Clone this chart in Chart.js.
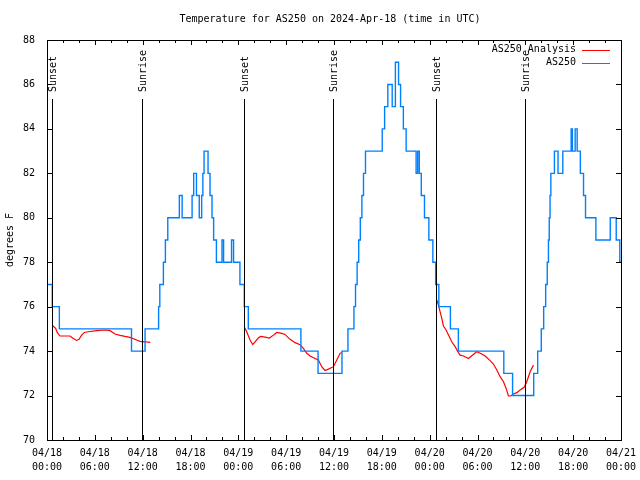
<!DOCTYPE html>
<html><head><meta charset="utf-8">
<script src="https://cdn.jsdelivr.net/npm/chart.js@4.4.1/dist/chart.umd.min.js"></script>
<style>html,body{margin:0;padding:0;background:#fff;}#wrap{width:640px;height:480px;}</style>
</head><body><div id="wrap"><canvas id="c" width="640" height="480"></canvas></div>
<script>
const TITLE = 'Temperature for AS250 on 2024-Apr-18 (time in UTC)';
const Y_LABEL = 'degrees F';
const xTickDates = ['04/18','04/18','04/18','04/18','04/19','04/19','04/19','04/19','04/20','04/20','04/20','04/20','04/21'];
const xTickTimes = ['00:00','06:00','12:00','18:00','00:00','06:00','12:00','18:00','00:00','06:00','12:00','18:00','00:00'];
const eventHours = [0.67, 11.9, 24.72, 35.9, 48.8, 59.9];
const eventLabels = ['Sunset','Sunrise','Sunset','Sunrise','Sunset','Sunrise'];

// AS250 (blue, stepped): hour since 04/18 00:00 UTC where the reading changes, and new value
const blueHours = [0,0.66,1.55,10.6,12.3,14.0,14.15,14.6,14.85,15.15,
  16.6,16.95,18.2,18.4,18.75,19.1,19.4,19.55,19.7,20.2,
  20.45,20.7,20.9,21.25,21.95,22.15,23.15,23.4,24.2,24.75,
  25.25,31.85,34.0,37.0,37.75,38.5,38.7,38.9,39.1,39.3,
  39.5,39.7,39.95,42.05,42.35,42.75,43.3,43.7,44.1,44.35,
  44.7,45.05,46.3,46.5,46.7,46.95,47.35,47.9,48.4,48.75,
  49.15,50.6,51.6,57.3,58.4,61.05,61.55,62.0,62.3,62.55,
  62.75,62.9,63.0,63.1,63.2,63.65,64.1,64.7,65.75,65.9,
  66.25,66.5,66.9,67.3,67.55,68.85,70.65,71.4,71.85,72];
const blueTemps = [77,76,75,74,75,76,77,78,79,80,
  81,80,81,82,81,80,81,82,83,82,
  81,80,79,78,79,78,79,78,77,76,
  75,74,73,74,75,76,77,78,79,80,
  81,82,83,84,85,86,85,87,86,85,
  84,83,82,83,82,81,80,79,78,77,
  76,75,74,73,72,73,74,75,76,77,
  78,79,80,81,82,83,82,83,84,83,
  84,83,82,81,80,79,80,79,78,78];

// AS250 Analysis (red), night segments separated by null
const redHours = [0.67,1.09,1.30,1.63,2.89,3.30,3.72,4.02,4.35,4.68,5.19,6.23,7.28,7.90,8.53,9.16,9.79,10.41,11.25,11.67,12.30,12.97,
  18,
  24.76,25.05,25.47,25.81,26.10,26.52,26.81,27.35,27.90,28.40,28.82,29.44,29.86,30.49,31.12,31.74,32.16,32.58,33.0,33.63,34.04,34.46,34.88,35.30,35.93,36.35,36.76,36.97,
  42,
  48.89,49.10,49.31,49.52,49.73,50.06,50.36,50.77,51.19,51.61,51.82,52.24,52.87,53.28,53.91,54.54,54.96,55.58,56.0,56.42,56.84,57.26,57.59,57.88,58.18,58.51,58.93,59.35,59.85,60.18,60.60,61.02];
const redTemps = [75.16,75.02,74.83,74.68,74.68,74.57,74.48,74.53,74.72,74.84,74.87,74.92,74.95,74.92,74.77,74.71,74.66,74.62,74.50,74.44,74.42,74.39,
  null,
  75.08,74.87,74.50,74.30,74.42,74.60,74.66,74.63,74.59,74.72,74.84,74.80,74.75,74.53,74.38,74.29,74.12,73.90,73.78,73.67,73.60,73.30,73.13,73.19,73.30,73.60,73.90,73.94,
  null,
  76.30,76.07,75.77,75.47,75.13,74.95,74.72,74.42,74.20,73.93,73.82,73.78,73.67,73.79,73.97,73.87,73.78,73.57,73.42,73.15,72.85,72.62,72.32,71.98,71.98,72.07,72.13,72.25,72.37,72.62,73.07,73.37];

const FONT = "'DejaVu Sans Mono', monospace";
const BLUE = '#0080ff', RED = '#ff0000';

const decor = {
  id: 'decor',
  afterDraw(chart) {
    const ctx = chart.ctx, a = chart.chartArea;
    const xs = chart.scales.x, ys = chart.scales.y;
    ctx.save();
    ctx.strokeStyle = '#000'; ctx.lineWidth = 1;
    // frame
    ctx.strokeRect(Math.round(a.left) + 0.5, Math.round(a.top) + 0.5, Math.round(a.right - a.left), Math.round(a.bottom - a.top));
    // x ticks (major every 6 h, minor every 2 h), mirrored
    ctx.beginPath();
    for (let h = 0; h <= 72; h += 2) {
      const px = Math.round(xs.getPixelForValue(h)) + 0.5;
      const len = (h % 6 === 0) ? 5 : 3;
      ctx.moveTo(px, a.bottom); ctx.lineTo(px, a.bottom - len);
      ctx.moveTo(px, a.top); ctx.lineTo(px, a.top + len);
    }
    // y ticks, mirrored
    for (let v = 70; v <= 88; v += 2) {
      const py = Math.round(ys.getPixelForValue(v)) + 0.5;
      ctx.moveTo(a.left, py); ctx.lineTo(a.left + 5, py);
      ctx.moveTo(a.right, py); ctx.lineTo(a.right - 5, py);
    }
    ctx.stroke();
    // sunrise / sunset markers
    ctx.font = '10px ' + FONT;
    ctx.fillStyle = '#000';
    eventHours.forEach((h, i) => {
      const px = Math.round(xs.getPixelForValue(h)) + 0.5;
      ctx.beginPath();
      ctx.moveTo(px, a.top + 59); ctx.lineTo(px, a.bottom);
      ctx.stroke();
      ctx.save();
      ctx.translate(px + 1, a.top + 52);
      ctx.rotate(-Math.PI / 2);
      ctx.textAlign = 'left'; ctx.textBaseline = 'middle';
      ctx.fillText(eventLabels[i], 0, 0);
      ctx.restore();
    });
    // title
    ctx.textAlign = 'center'; ctx.textBaseline = 'middle';
    ctx.fillText(TITLE, 330, 19);
    // legend (key) top-right inside plot
    const order = [1, 0];
    order.forEach((di, r) => {
      const ds = chart.data.datasets[di];
      const y = a.top + 9.5 + r * 13;
      ctx.textAlign = 'right'; ctx.fillStyle = '#000';
      ctx.fillText(ds.label, a.right - 45, y);
      ctx.strokeStyle = ds.borderColor;
      ctx.beginPath();
      ctx.moveTo(a.right - 39, Math.round(y) + 0.5); ctx.lineTo(a.right - 11, Math.round(y) + 0.5);
      ctx.stroke();
    });
    ctx.restore();
  }
};

new Chart(document.getElementById('c').getContext('2d'), {
  type: 'line',
  data: {
    datasets: [
      { label: 'AS250', data: blueHours.map((h, i) => ({ x: h, y: blueTemps[i] })),
        borderColor: BLUE, borderWidth: 1.4, pointRadius: 0, stepped: 'before', fill: false, order: 0 },
      { label: 'AS250 Analysis', data: redHours.map((h, i) => ({ x: h, y: redTemps[i] })),
        borderColor: RED, borderWidth: 1.2, pointRadius: 0, spanGaps: false, fill: false, tension: 0, order: 1 }
    ]
  },
  options: {
    responsive: false, animation: false, devicePixelRatio: 1,
    layout: { padding: { top: 40, right: 19, left: 0, bottom: 0 } },
    plugins: { legend: { display: false }, tooltip: { enabled: false }, title: { display: false } },
    scales: {
      x: {
        type: 'linear', min: 0, max: 72,
        afterFit(s) { s.height = 40; s.paddingLeft = 0; s.paddingRight = 0; },
        afterBuildTicks(s) { s.ticks = xTickDates.map((d, i) => ({ value: i * 6 })); },
        ticks: { autoSkip: false, maxRotation: 0, minRotation: 0, padding: 6, color: '#000',
          font: { family: FONT, size: 10, lineHeight: 1.4 },
          callback: (v) => { const i = Math.round(v / 6); return [xTickDates[i], xTickTimes[i]]; } },
        grid: { display: false, drawTicks: false }, border: { display: false }
      },
      y: {
        min: 70, max: 88,
        afterFit(s) { s.width = 47; s.paddingTop = 0; s.paddingBottom = 0; },
        ticks: { stepSize: 2, padding: 12, color: '#000', font: { family: FONT, size: 10 } },
        grid: { display: false, drawTicks: false }, border: { display: false },
        title: { display: true, text: Y_LABEL, color: '#000', font: { family: FONT, size: 10 }, padding: { top: 4, bottom: 0 } }
      }
    }
  },
  plugins: [decor]
});
</script>
</body></html>
